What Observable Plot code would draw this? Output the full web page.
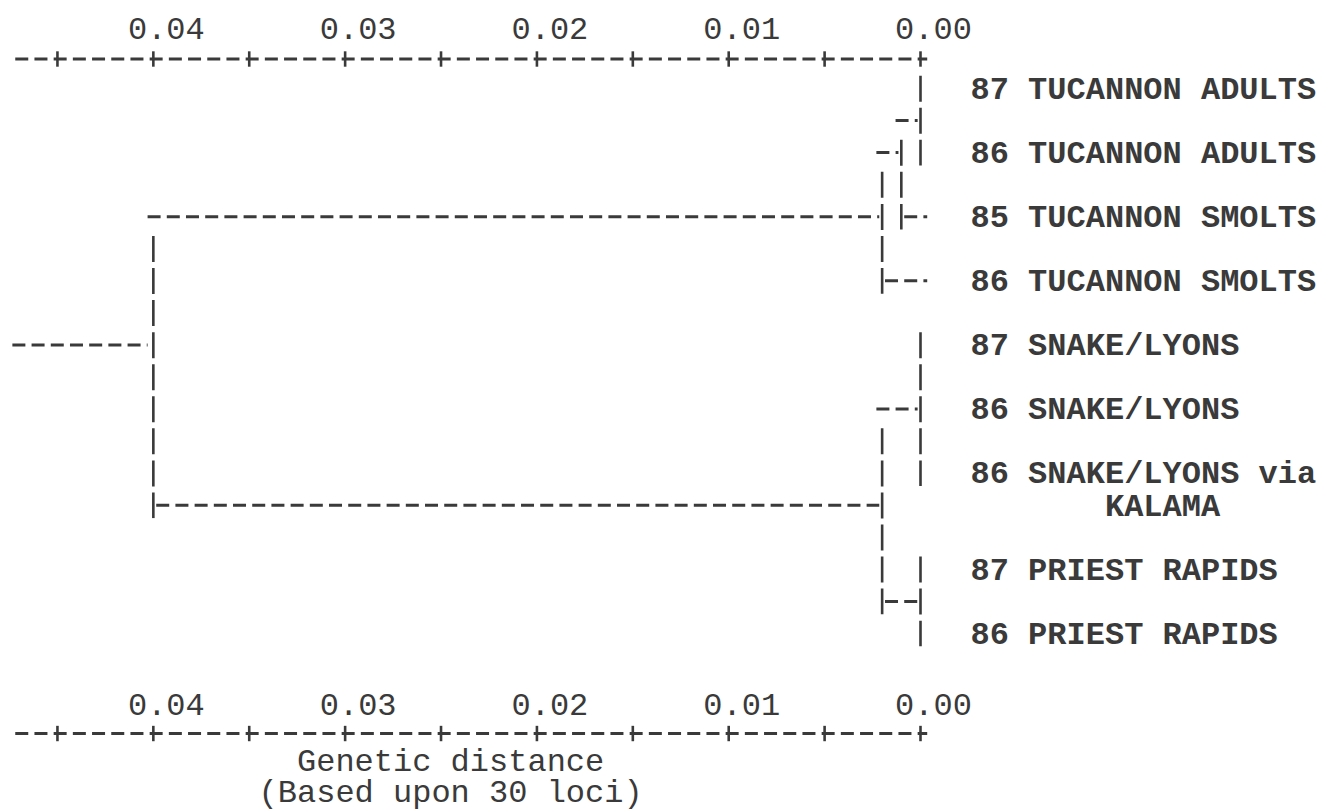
<!DOCTYPE html>
<html>
<head>
<meta charset="utf-8">
<script src="https://cdn.jsdelivr.net/npm/d3@7"></script>
<script src="https://cdn.jsdelivr.net/npm/@observablehq/plot@0.6"></script>
<style>
  html, body { margin: 0; padding: 0; background: #ffffff; }
  #chart svg { display: block; }
  #chart svg text { white-space: pre; }
</style>
</head>
<body>
<div id="chart"></div>
<script>
// ---- data ----
// leaves, top to bottom (a "\n" marks a wrapped continuation line)
const leafLabels = [
  "87 TUCANNON ADULTS",
  "86 TUCANNON ADULTS",
  "85 TUCANNON SMOLTS",
  "86 TUCANNON SMOLTS",
  "87 SNAKE/LYONS",
  "86 SNAKE/LYONS",
  "86 SNAKE/LYONS via\n       KALAMA",
  "87 PRIEST RAPIDS",
  "86 PRIEST RAPIDS"
];
// cluster joins (in order of joining), their members and genetic distance
const nodeNames = ["A", "B", "C", "D", "E", "F", "root"];
const nodeChildren = [
  ["87 TUCANNON ADULTS", "86 TUCANNON ADULTS"],
  ["A", "85 TUCANNON SMOLTS"],
  ["B", "86 TUCANNON SMOLTS"],
  ["87 SNAKE/LYONS", "86 SNAKE/LYONS", "86 SNAKE/LYONS via\n       KALAMA"],
  ["87 PRIEST RAPIDS", "86 PRIEST RAPIDS"],
  ["D", "E"],
  ["C", "F"]
];
const nodeDistances = [0.000, 0.001, 0.002, 0.000, 0.000, 0.002, 0.040];
const axisStart = 0.0475;          // left end of the distance axis / root stem
const tickValues = [0.04, 0.03, 0.02, 0.01, 0.00];
const tickLabels = ["0.04", "0.03", "0.02", "0.01", "0.00"];
const plusTicks = [0.045, 0.040, 0.035, 0.030, 0.025, 0.020, 0.015, 0.010, 0.005, 0.000];
const axisTitleLines = ["Genetic distance", "(Based upon 30 loci)"];

// ---- layout (text-line rows, like the original line-printer output) ----
const ink = "#3a3a3a";
const mono = "'Liberation Mono', 'Courier New', 'DejaVu Sans Mono', monospace";
const charD = 0.001;              // one printer column in distance units
const rowTopLabels = -1.87, rowTopAxis = -0.92;
const rowBotLabels = 19.21, rowBotAxis = 20.12;
const rowTitle = [20.98, 21.93];

// rows of leaves: each label takes its lines plus one blank line
const rowOf = new Map();
let r = 0;
for (const l of leafLabels) { rowOf.set(l, r); r += l.split("\n").length + 1; }
const distOf = new Map(leafLabels.map(l => [l, 0]));
const isLeaf = new Set(leafLabels);

const hSegs = [], vSegs = [];
nodeNames.forEach((n, i) => {
  const kids = nodeChildren[i];
  const d = nodeDistances[i];
  const rows = kids.map(k => rowOf.get(k));
  const lo = Math.min(...rows), hi = Math.max(...rows);
  const topKid = kids[rows.indexOf(lo)];
  const topHasBranch = distOf.get(topKid) < d;
  vSegs.push({x: d, y1: topHasBranch ? lo + 0.6 : lo - 0.4, y2: hi + 0.4});
  kids.forEach(k => {
    const dk = distOf.get(k);
    if (dk < d) {
      hSegs.push({
        x1: d + 0.15 * charD * (topHasBranch && k === topKid ? 2 : -1),
        x2: isLeaf.has(k) ? dk - 0.35 * charD : dk + 0.15 * charD,
        y: rowOf.get(k)
      });
    }
  });
  rowOf.set(n, Math.floor((lo + hi) / 2));
  distOf.set(n, d);
});
// root stem
const root = nodeNames[nodeNames.length - 1];
hSegs.push({x1: axisStart - 0.15 * charD, x2: distOf.get(root) + 0.3 * charD, y: rowOf.get(root)});

const labelLines = leafLabels.flatMap(l =>
  l.split("\n").map((t, i) => ({t, row: rowOf.get(l) + i})));

const axes = [
  {rowL: rowTopLabels, rowA: rowTopAxis},
  {rowL: rowBotLabels, rowA: rowBotAxis}
];
const axisLines = axes.map(a => ({x1: axisStart - 0.3 * charD, x2: -0.35 * charD, y: a.rowA}));
const plusMarks = axes.flatMap(a => plusTicks.map(v => ({x: v, y1: a.rowA - 0.24, y2: a.rowA + 0.24})));
const tickText = axes.flatMap(a => tickValues.map((v, i) => ({x: v, y: a.rowL, t: tickLabels[i]})));
const titleText = axisTitleLines.map((t, i) => ({t, y: rowTitle[i]}));

const chart = Plot.plot({
  width: 1322,
  height: 812,
  marginLeft: 9,
  marginRight: 402,
  marginTop: 88,
  marginBottom: 812 - 633,
  x: {domain: [axisStart, 0], axis: null},
  y: {domain: [0, 17], range: [88, 633], axis: null},
  style: {background: "#ffffff", color: ink},
  marks: [
    // horizontal branches (printed '-' characters)
    Plot.link(hSegs, {x1: "x1", x2: "x2", y1: "y", y2: "y",
      stroke: ink, strokeWidth: 3, strokeDasharray: "13,6.2", strokeLinecap: "butt"}),
    // vertical joins (printed '|' characters)
    Plot.link(vSegs, {x1: "x", x2: "x", y1: "y1", y2: "y2",
      stroke: ink, strokeWidth: 2.6, strokeDasharray: "26,6.06", strokeLinecap: "butt"}),
    // distance axes  --+----+----+
    Plot.link(axisLines, {x1: "x1", x2: "x2", y1: "y", y2: "y",
      stroke: ink, strokeWidth: 3, strokeDasharray: "13,6.2"}),
    Plot.link(plusMarks, {x1: "x", x2: "x", y1: "y1", y2: "y2",
      stroke: ink, strokeWidth: 2.6}),
    Plot.text(tickText, {x: "x", y: "y", text: "t", dx: 13,
      fontFamily: mono, fontSize: 32, fill: ink}),
    // leaf labels
    Plot.text(labelLines, {x: 0, y: "row", text: "t", dx: 50, textAnchor: "start",
      fontFamily: mono, fontSize: 32, fontWeight: "bold", fill: ink}),
    // axis title
    Plot.text(titleText, {x: 0.0245, y: "y", text: "t",
      fontFamily: mono, fontSize: 32, fill: ink})
  ]
});
document.getElementById("chart").append(chart);
</script>
</body>
</html>
